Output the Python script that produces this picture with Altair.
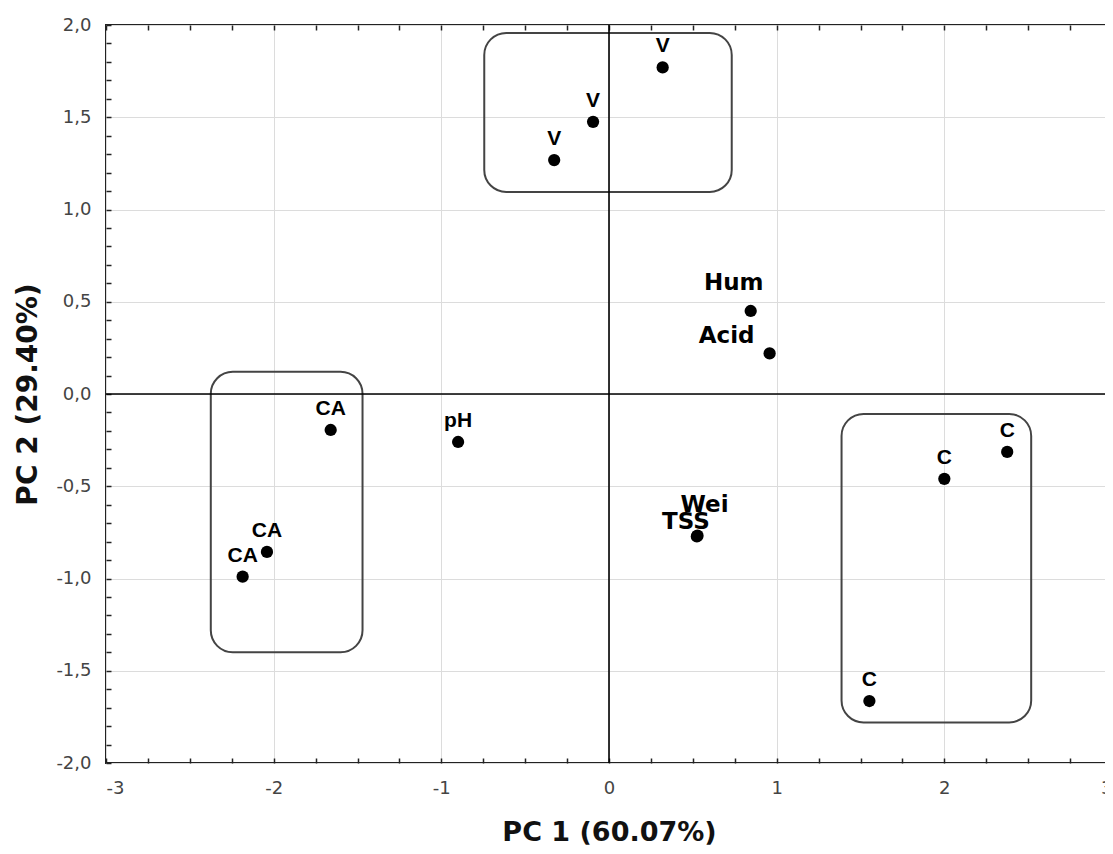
import altair as alt
import pandas as pd

# ---- data ----
names = ["V", "V", "V", "Hum", "Acid", "CA", "pH", "CA", "CA", "TSS", "Wei", "C", "C", "C"]
pc1 = [0.32, -0.095, -0.327, 0.845, 0.958, -1.66, -0.90, -2.04, -2.185, 0.524, 0.528, 2.00, 2.375, 1.553]
pc2 = [1.77, 1.475, 1.268, 0.45, 0.22, -0.195, -0.26, -0.856, -0.99, -0.772, -0.768, -0.46, -0.314, -1.664]

box_group = ["V", "CA", "C"]
box_x1 = [-0.744, -2.375, 1.387]
box_x2 = [0.732, -1.470, 2.518]
box_y1 = [1.957, 0.120, -0.108]
box_y2 = [1.095, -1.400, -1.780]

x_ticks = [-3, -2, -1, 0, 1, 2, 3]
y_ticks = [2.0, 1.5, 1.0, 0.5, 0.0, -0.5, -1.0, -1.5, -2.0]
x_minor = [round(-3 + 0.25 * i, 2) for i in range(25)]
y_minor = [round(-2 + 0.1 * i, 2) for i in range(41)]

x_title = "PC 1 (60.07%)"
y_title = "PC 2 (29.40%)"

df = pd.DataFrame({"name": names, "pc1": pc1, "pc2": pc2})
boxes = pd.DataFrame({"group": box_group, "x1": box_x1, "x2": box_x2, "y1": box_y1, "y2": box_y2})
zero = pd.DataFrame({"v": [0.0]})

xs = alt.Scale(domain=[-3, 3], nice=False, zero=False)
ys = alt.Scale(domain=[-2, 2], nice=False, zero=False)

TICK_FONT = "DejaVu Sans"
TITLE_FONT = "DejaVu Sans"

main_x_axis = alt.Axis(
    values=x_ticks, labelExpr="(datum.value < 0 ? '-' : '') + abs(datum.value)",
    title=x_title, grid=True, gridColor="#dcdcdc", gridWidth=1,
    ticks=False, tickSize=0, domain=False,
    labelFont=TICK_FONT, labelFontSize=18, labelColor="#444", labelPadding=16,
    titleFont=TITLE_FONT, titleFontSize=27, titleFontWeight="bold", titleColor="#111",
    titlePadding=22,
)
main_y_axis = alt.Axis(
    values=y_ticks,
    labelExpr="(datum.value < 0 ? '-' : '') + replace(format(abs(datum.value), '.1f'), '.', ',')",
    title=y_title, grid=True, gridColor="#dcdcdc", gridWidth=1,
    ticks=False, tickSize=0, domain=False,
    labelFont=TICK_FONT, labelFontSize=18, labelColor="#444", labelPadding=15,
    titleFont=TITLE_FONT, titleFontSize=28, titleFontWeight="bold", titleColor="#111",
    titlePadding=13,
)


def tick_axis(orient, values):
    return alt.Axis(orient=orient, values=values, labels=False, grid=False, domain=False,
                    ticks=True, tickSize=5, offset=-5, tickColor="#222", tickWidth=1.5, title=None)


box_layer = alt.Chart(boxes).mark_rect(filled=False, color="#444", strokeWidth=2, cornerRadius=22).encode(
    x=alt.X("x1:Q", scale=xs, axis=None), x2="x2:Q",
    y=alt.Y("y1:Q", scale=ys, axis=None), y2="y2:Q",
)

vzero = alt.Chart(zero).mark_rule(color="black", strokeWidth=1.6).encode(
    x=alt.X("v:Q", scale=xs, axis=None))
hzero = alt.Chart(zero).mark_rule(color="black", strokeWidth=1.6).encode(
    y=alt.Y("v:Q", scale=ys, axis=None))

points = alt.Chart(df).mark_circle(size=150, color="black", opacity=1).encode(
    x=alt.X("pc1:Q", scale=xs, axis=main_x_axis),
    y=alt.Y("pc2:Q", scale=ys, axis=main_y_axis),
)

base = alt.Chart(df).encode(
    x=alt.X("pc1:Q", scale=xs, axis=None),
    y=alt.Y("pc2:Q", scale=ys, axis=None),
    text="name:N",
)

sample_labels = base.transform_filter(
    alt.FieldOneOfPredicate(field="name", oneOf=["V", "CA", "C", "pH"])
).mark_text(font="Liberation Sans", fontWeight="bold", fontSize=21, dy=-21, baseline="middle", color="black")


def var_label(name, dx, dy):
    return base.transform_filter(alt.FieldEqualPredicate(field="name", equal=name)).mark_text(
        font="DejaVu Sans", fontWeight="bold", fontSize=23, dx=dx, dy=dy, baseline="middle", color="black")


hum = var_label("Hum", -17, -28)
acid = var_label("Acid", -43, -17)
tss = var_label("TSS", -11, -14)
wei = var_label("Wei", 7, -31)

ticks_a = alt.Chart(df).mark_point(opacity=0).encode(
    x=alt.X("pc1:Q", scale=xs, axis=tick_axis("bottom", x_minor)),
    y=alt.Y("pc2:Q", scale=ys, axis=tick_axis("left", y_minor)),
)
ticks_b = alt.Chart(df).mark_point(opacity=0).encode(
    x=alt.X("pc1:Q", scale=xs, axis=tick_axis("top", x_minor)),
    y=alt.Y("pc2:Q", scale=ys, axis=tick_axis("right", y_minor)),
)

chart = alt.layer(
    box_layer, vzero, hzero, points, sample_labels, hum, acid, tss, wei, ticks_a, ticks_b
).resolve_axis(x="independent", y="independent").properties(
    width=1006, height=738,
    autosize="none",
    padding={"left": 98, "top": 17, "right": -7, "bottom": 83},
    background="white",
).configure_view(stroke="#222", strokeWidth=2)

chart.save("out.html", embed_options={"renderer": "svg", "actions": False})
